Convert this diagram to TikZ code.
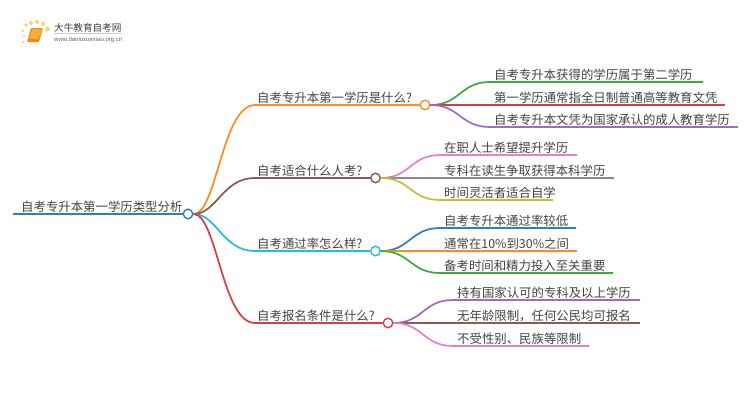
\documentclass[tikz,border=0pt]{standalone}
\usepackage{fontspec}
\newfontfamily\cjk{Noto Sans CJK SC}[Scale=1]
\definecolor{cblue}{HTML}{2B7FC3}
\definecolor{corange}{HTML}{FF8C1A}
\definecolor{cbrown}{HTML}{8C5A4E}
\definecolor{ccyan}{HTML}{22BFD6}
\definecolor{cred}{HTML}{DE3B3F}
\definecolor{cgreen}{HTML}{3CAB3C}
\definecolor{cpurple}{HTML}{9A6CC8}
\definecolor{cpink}{HTML}{E77FD0}
\definecolor{cgrey}{HTML}{8C8C8C}
\definecolor{colive}{HTML}{C4C232}
\definecolor{ctext}{HTML}{444444}
\definecolor{cdot}{HTML}{FBD27A}
\definecolor{cbook}{HTML}{F08A1D}
\definecolor{cbookl}{HTML}{FBB03B}
\tikzset{
 x=1pt,y=-1pt,
 lbl/.style={anchor=base west,inner sep=0pt,font=\cjk\fontsize{12.4}{12.4}\selectfont,text=ctext},
 dot/.style={circle,draw=#1,fill=white,line width=1.4pt,minimum size=9.5pt,inner sep=0pt},
 conn/.style={draw=#1,line width=1.7pt},
}
\newcommand{\leaf}[7]{% name, from, color, turn x, y, end x, text
 \node[lbl] (#1) at ({#4+4},{#5-3}) {#7};
 \coordinate (#1s) at (#4,#5);
 \coordinate (#1e) at (#6,#5);
 \draw[conn=#3] (#2.east) .. controls ({(#4+\xa)/2},\ya) and ({(#4+\xa)/2},#5) .. (#1s) -- (#1e);
}
\begin{document}
\begin{tikzpicture}
\useasboundingbox (0,0) rectangle (750,410);
\fill[white] (0,0) rectangle (750,410);
% logo
\foreach \p/\r in {{26,25}/1.8,{31,23}/2,{37,22}/2.1,{43,24}/2,{47.5,29}/2.4,{23,31}/1.4,{24,36}/1.3,{23.5,42}/1.1}{\fill[cdot] (\p) circle (\r);}
\fill[cbook,rounded corners=1pt] (31,28) -- (43,28) -- (39,42) -- (27,42) -- cycle;
\fill[cbookl] (32.5,29) -- (42,29) -- (38.5,38.5) -- (29.5,38.5) -- cycle;
\node[inner sep=0pt,anchor=base west,text=black!75,font=\cjk\fontsize{9.6}{9.6}\selectfont] (logot) at (54,31.5) {大牛教育自考网};
\coordinate (logol) at (54,33.5); \coordinate (logor) at (122,33.5);
\draw[black!20,line width=.6pt] (logol) -- (logor);
\node[inner sep=0pt,anchor=base west,text=black!60,font=\fontspec{Liberation Sans}\fontsize{6}{6}\selectfont] (logou) at (54,41.5) {www.daniuxuexiao.org.cn};
% root
\node[lbl] (root) at (21,211) {自考专升本第一学历类型分析};
\coordinate (roots) at (13,214);
\node[dot=cblue] (rc) at (188,214) {};
\draw[draw=cblue,line width=2.2pt] (roots) -- (rc.west);
% branch circles
\node[dot=corange] (c1) at (425,105) {};
\node[dot=cbrown] (c2) at (375.5,178) {};
\node[dot=ccyan] (c3) at (375.5,251) {};
\node[dot=cred] (c4) at (388,323) {};
% branch labels
\node[lbl] (b1) at (257,102) {自考专升本第一学历是什么?};
\node[lbl] (b2) at (257,175) {自考适合什么人考?};
\node[lbl] (b3) at (257,248) {自考通过率怎么样?};
\node[lbl] (b4) at (257,320) {自考报名条件是什么?};
% branch connectors
\coordinate (t1) at (255,105); \coordinate (t2) at (255,178); \coordinate (t3) at (255,251); \coordinate (t4) at (255,323);
\draw[conn=corange] (rc.east) .. controls (217,214) and (222,105) .. (t1) -- (c1.west);
\draw[conn=cbrown] (rc.east) .. controls (217,214) and (222,178) .. (t2) -- (c2.west);
\draw[conn=ccyan] (rc.east) .. controls (217,214) and (222,251) .. (t3) -- (c3.west);
\draw[conn=cred] (rc.east) .. controls (217,214) and (222,323) .. (t4) -- (c4.west);
% leaves
\def\xa{430}\def\ya{105}
\leaf{a1}{c1}{cgreen}{490}{82}{703}{自考专升本获得的学历属于第二学历}
\leaf{a2}{c1}{cred}{490}{105}{725}{第一学历通常指全日制普通高等教育文凭}
\leaf{a3}{c1}{cpurple}{490}{127}{738}{自考专升本文凭为国家承认的成人教育学历}
\def\xa{380.5}\def\ya{178}
\leaf{d1}{c2}{cpink}{440}{155}{577}{在职人士希望提升学历}
\leaf{d2}{c2}{cgrey}{440}{178}{614}{专科在读生争取获得本科学历}
\leaf{d3}{c2}{colive}{440}{200}{553}{时间灵活者适合自学}
\def\ya{251}
\leaf{e1}{c3}{cblue}{440}{228}{576}{自考专升本通过率较低}
\leaf{e2}{c3}{corange}{440}{251}{577}{通常在10\%到30\%之间}
\leaf{e3}{c3}{cgreen}{440}{273}{613}{备考时间和精力投入至关重要}
\def\xa{393}\def\ya{323}
\leaf{f1}{c4}{cpurple}{453}{300}{640}{持有国家认可的专科及以上学历}
\leaf{f2}{c4}{cbrown}{453}{323}{640}{无年龄限制\char"FF0C 任何公民均可报名}
\leaf{f3}{c4}{cpink}{453}{346}{589}{不受性别、民族等限制}
\end{tikzpicture}
\end{document}
